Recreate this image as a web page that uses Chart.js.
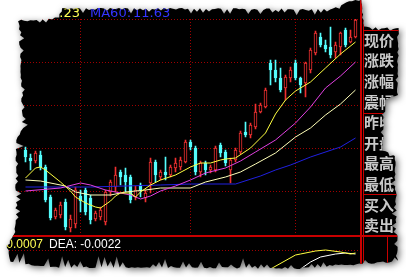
<!DOCTYPE html>
<html>
<head>
<meta charset="utf-8">
<script src="https://cdn.jsdelivr.net/npm/chart.js@4/dist/chart.umd.min.js"></script>
<style>
  html, body { margin: 0; padding: 0; background: #fff; overflow: hidden; }
  canvas { display: block; }
</style>
</head>
<body>
<canvas id="kline" width="406" height="277"></canvas>
<script>
// daily candles, price level
const opens  = [90, 82, 79, 85, 73, 43, 23, 25, 38, 12, 16, 44, 50, 42, 21, 23, 18, 48, 53, 68, 65, 63, 43, 55, 42, 57, 78, 63, 68, 65, 72, 73, 78, 98, 92, 68, 77, 70, 70, 95, 88, 70, 80, 88, 108, 105, 113, 128, 133, 177, 170, 162, 152, 162, 177, 162, 157, 170, 187, 203, 195, 193, 188, 193, 210, 198, 203]
const closes = [83, 79, 87, 73, 40, 22, 30, 35, 13, 21, 50, 39, 28, 20, 27, 30, 48, 58, 65, 63, 58, 40, 50, 50, 47, 78, 65, 68, 65, 73, 77, 80, 98, 93, 68, 77, 70, 73, 92, 87, 77, 80, 90, 107, 105, 115, 128, 135, 150, 170, 162, 150, 163, 170, 162, 155, 177, 190, 207, 195, 191, 185, 195, 207, 195, 203, 220]
const highs  = [93, 86, 89, 89, 75, 45, 32, 38, 41, 25, 53, 50, 52, 45, 29, 33, 50, 60, 73, 70, 72, 65, 54, 57, 50, 82, 80, 70, 83, 75, 82, 83, 100, 100, 94, 79, 79, 75, 94, 97, 90, 82, 92, 109, 118, 117, 136, 137, 152, 180, 180, 172, 165, 173, 180, 163, 178, 192, 209, 207, 200, 213, 198, 208, 212, 210, 222]
const lows   = [78, 70, 77, 70, 38, 20, 21, 22, 10, 8, 12, 28, 25, 16, 19, 20, 15, 44, 48, 55, 48, 37, 40, 43, 38, 47, 58, 60, 60, 63, 68, 70, 77, 90, 65, 63, 65, 67, 68, 83, 74, 57, 78, 86, 103, 102, 111, 127, 132, 155, 158, 148, 140, 158, 160, 147, 143, 167, 185, 193, 188, 182, 182, 185, 193, 197, 202]

// moving averages as [day index, level]
const ma5  = [[0, 62], [2, 72], [3, 73], [4, 70], [7, 58], [9, 49], [10, 43], [12, 37], [13, 35], [14, 33], [15, 32], [17, 39], [18, 44], [19, 47], [21, 47], [22, 43], [23, 48], [25, 55], [27, 60], [30, 65], [33, 73], [35, 77], [37, 77], [39, 80], [40, 81], [42, 82], [45, 92], [48, 107], [50, 126], [52, 140], [54, 149], [57, 158], [60, 172], [63, 186], [66, 198]]
const ma10 = [[0, 49], [7, 52], [11, 57], [13, 55], [16, 50], [18, 48], [21, 45], [23, 41], [25, 44], [27, 49], [30, 54], [33, 60], [36, 67], [40, 72], [43, 79], [46, 88], [50, 100], [54, 117], [57, 133], [60, 152], [63, 164], [66, 178]]
const ma20 = [[0, 60], [3, 59], [8, 54], [10, 48], [13, 45], [17, 45], [20, 48], [24, 50], [27, 52], [33, 52], [36, 58], [40, 63], [43, 68], [46, 76], [50, 87], [54, 103], [57, 112], [60, 125], [63, 136], [66, 150]]
const ma60 = [[0, 53], [13, 53], [27, 55], [33, 56], [42, 56], [47, 64], [50, 70], [53, 75], [57, 83], [63, 93], [66, 102]]

// MACD panel
const dif = [[49, -0.0095], [54, -0.0025], [55, -0.002], [58, -0.0005], [60, 0], [63, -0.001], [65, -0.002], [66, -0.0015]]
const dea = [[55, -0.0095], [57, -0.006], [59, -0.0035], [62, -0.002], [64, -0.0015], [66, -0.002]]

const quoteLabels = ['现价', '涨跌', '涨幅', '震幅', '昨收', '开盘', '最高', '最低', '买入', '卖出']

const RED = '#f03030'
const CYAN = '#54fcfc'
const GRID = '#a00000'

const days = opens.map((_, i) => String(i + 1))
const rising = opens.map((o, i) => closes[i] >= o)
const toPoints = (arr) => arr.map(([i, v]) => ({ x: days[i], y: v }))

// outline of the torn paper scrap: [x, y, tear depth]
const outline = [
  [18, 20, 5], [58, 17, 5], [62, 8, 7], [215, 8, 7], [330, 9, 6], [352, 0, 3], [362, 0, 3],
  [364, 26, 5], [399, 28, 6], [398, 95, 6], [386, 100, 6], [383, 150, 6], [396, 156, 6],
  [398, 262, 6], [300, 269, 12], [150, 268, 12], [50, 268, 12], [10, 262, 6], [6, 245, 6],
  [14, 232, 8], [16, 140, 8], [22, 128, 6], [20, 60, 6]
]

function hash (k) {
  const s = Math.sin(k * 127.1 + 311.7) * 43758.5453
  return s - Math.floor(s)
}

function tornPath (ctx) {
  let k = 0
  ctx.beginPath()
  for (let e = 0; e < outline.length; e++) {
    const [x0, y0, amp] = outline[e]
    const [x1, y1] = outline[(e + 1) % outline.length]
    const len = Math.hypot(x1 - x0, y1 - y0)
    const nx = -(y1 - y0) / len
    const ny = (x1 - x0) / len
    const steps = Math.max(1, Math.round(len / 3))
    for (let s = 0; s < steps; s++) {
      const t = s / steps
      const r = hash(k++)
      const d = s % 2 ? r * r * amp : r * 1.5
      const px = x0 + (x1 - x0) * t + nx * d
      const py = y0 + (y1 - y0) * t + ny * d
      if (e === 0 && s === 0) ctx.moveTo(px, py)
      else ctx.lineTo(px, py)
    }
  }
  ctx.closePath()
}

const screenPlugin = {
  id: 'screen',
  beforeDraw (chart) {
    const ctx = chart.ctx
    ctx.save()
    ctx.fillStyle = '#fff'
    ctx.fillRect(0, 0, chart.width, chart.height)
    ctx.shadowColor = 'rgba(0,0,0,0.6)'
    ctx.shadowBlur = 7
    ctx.shadowOffsetX = 2
    ctx.shadowOffsetY = 2
    tornPath(ctx)
    ctx.fillStyle = '#000'
    ctx.fill()
    ctx.restore()
    // everything else stays inside the scrap
    ctx.save()
    tornPath(ctx)
    ctx.clip()
  },
  beforeDatasetsDraw (chart) {
    const { ctx, chartArea: a, scales: { x, y, y2 } } = chart
    ctx.save()
    ctx.strokeStyle = GRID
    ctx.lineWidth = 1
    ctx.setLineDash([1, 2])
    ctx.beginPath()
    for (const v of [221, 178, 135, 92, 49]) {
      const py = Math.round(y.getPixelForValue(v)) + 0.5
      ctx.moveTo(0, py)
      ctx.lineTo(a.right, py)
    }
    const p0 = Math.round(y2.getPixelForValue(0)) + 0.5
    ctx.moveTo(0, p0)
    ctx.lineTo(a.right, p0)
    for (const d of [11, 33, 54]) {
      const px = Math.floor(x.getPixelForValue(d)) + 0.5
      ctx.moveTo(px, y.top)
      ctx.lineTo(px, y.bottom)
    }
    ctx.stroke()
    ctx.restore()
  },
  afterDraw (chart) {
    const { ctx, scales: { y } } = chart
    const split = Math.round(y.bottom)
    ctx.save()
    ctx.strokeStyle = '#c80000'
    ctx.lineWidth = 2
    ctx.beginPath()
    ctx.moveTo(0, split + 1)
    ctx.lineTo(chart.width, split + 1)
    ctx.moveTo(361, 0)
    ctx.lineTo(361, chart.height)
    ctx.stroke()
    ctx.lineWidth = 1
    ctx.beginPath()
    ctx.moveTo(363.5, 0)
    ctx.lineTo(363.5, chart.height)
    for (const py of [30, 113, 194]) {
      ctx.moveTo(363, py + 0.5)
      ctx.lineTo(chart.width, py + 0.5)
    }
    ctx.moveTo(387.5, split + 2)
    ctx.lineTo(387.5, chart.height)
    ctx.stroke()

    // quote captions
    ctx.fillStyle = '#c8c8c8'
    ctx.font = 'bold 15px "Noto Sans CJK SC"'
    ctx.textBaseline = 'middle'
    ctx.textAlign = 'left'
    quoteLabels.forEach((t, i) => ctx.fillText(t, 364, 40 + i * 20.6))

    // moving-average header
    ctx.textBaseline = 'alphabetic'
    ctx.font = '13px "DejaVu Sans"'
    ctx.fillStyle = '#ffff54'
    ctx.textAlign = 'right'
    ctx.fillText('MA5: 12.23', 80, 17)
    ctx.textAlign = 'left'
    ctx.fillStyle = '#3434ff'
    ctx.fillText('MA60:', 90, 17)
    ctx.fillText('11.63', 133, 17)

    // MACD header
    ctx.font = '12px "Liberation Sans"'
    ctx.fillStyle = '#ffff54'
    ctx.textAlign = 'right'
    ctx.fillText('DIF: 0.0007', 43, 248)
    ctx.textAlign = 'left'
    ctx.fillStyle = '#fff'
    ctx.fillText('DEA: -0.0022', 49, 248)
    ctx.restore()
    ctx.restore()
  }
}

const lineSet = (data, color, axis) => ({
  type: 'line',
  data,
  borderColor: color,
  borderWidth: 1,
  pointRadius: 0,
  tension: 0,
  order: 0,
  yAxisID: axis
})

new Chart(document.getElementById('kline'), {
  type: 'bar',
  data: {
    labels: days,
    datasets: [
      {
        data: opens.map((o, i) => [o, closes[i]]),
        backgroundColor: rising.map((r) => (r ? '#000' : CYAN)),
        borderColor: rising.map((r) => (r ? RED : CYAN)),
        borderWidth: 1,
        borderSkipped: false,
        barThickness: 3,
        grouped: false,
        order: 1,
        yAxisID: 'y'
      },
      {
        data: lows.map((l, i) => [l, highs[i]]),
        backgroundColor: rising.map((r) => (r ? RED : CYAN)),
        borderWidth: 0,
        barThickness: 1,
        grouped: false,
        order: 2,
        yAxisID: 'y'
      },
      lineSet(toPoints(ma5), '#ffff40', 'y'),
      lineSet(toPoints(ma10), '#e040e0', 'y'),
      lineSet(toPoints(ma20), '#ffffb8', 'y'),
      lineSet(toPoints(ma60), '#2020e0', 'y'),
      lineSet(toPoints(dif), '#ffff40', 'y2'),
      lineSet(toPoints(dea), '#ffffff', 'y2')
    ]
  },
  options: {
    responsive: false,
    animation: false,
    events: [],
    layout: { padding: { left: 23, right: 48, top: 19, bottom: 0 } },
    plugins: { legend: { display: false }, tooltip: { enabled: false } },
    scales: {
      x: { type: 'category', display: false, offset: true },
      y: { display: false, position: 'left', min: 5, max: 221, stack: 'panes', stackWeight: 216, weight: 2 },
      y2: { display: false, position: 'left', min: -0.0135, max: 0.0075, stack: 'panes', stackWeight: 42, weight: 1 }
    }
  },
  plugins: [screenPlugin]
})
</script>
</body>
</html>
